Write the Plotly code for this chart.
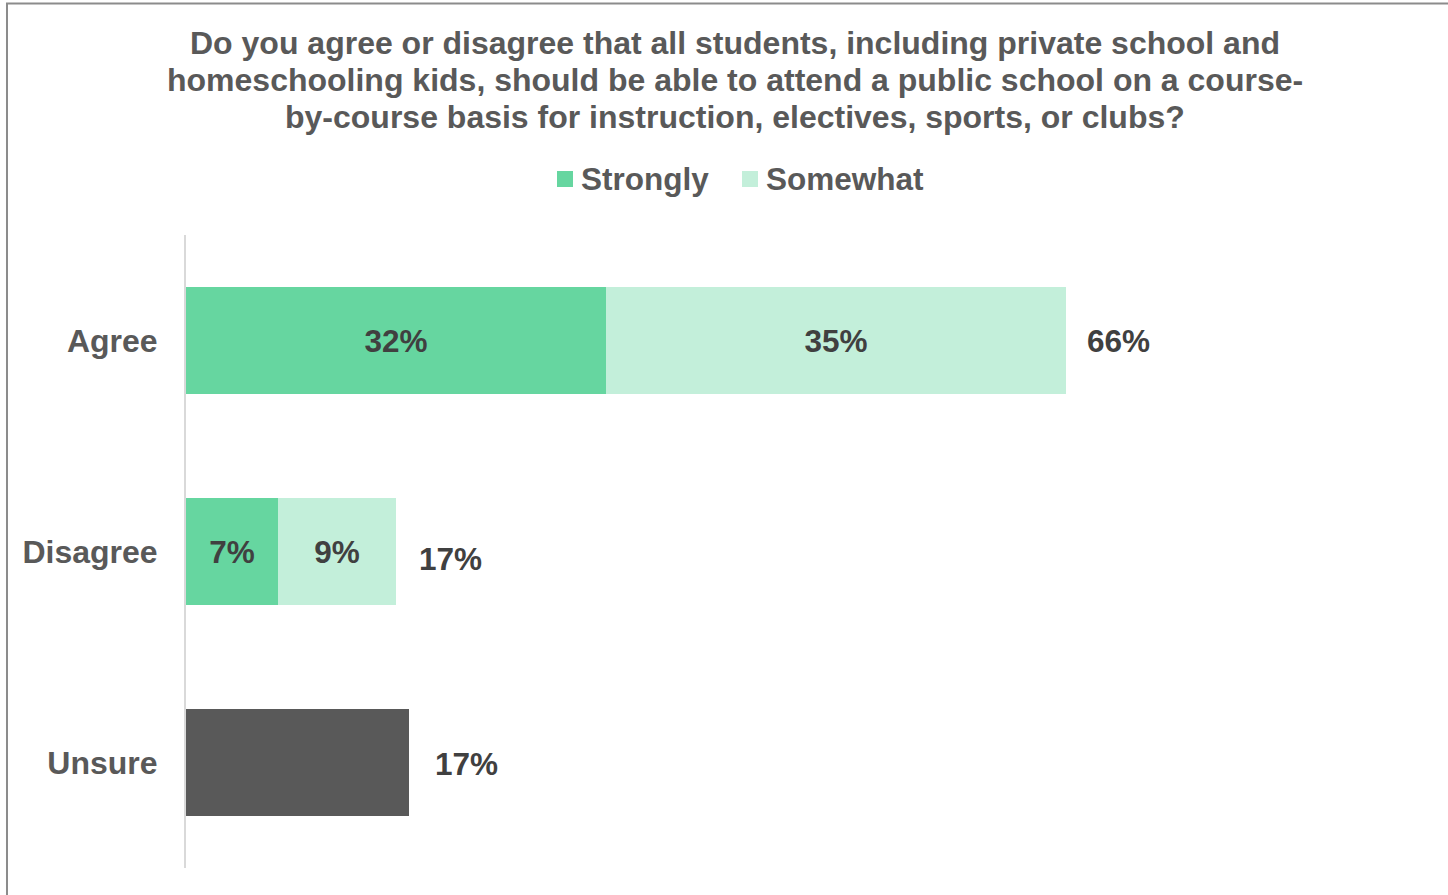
import plotly.graph_objects as go

# Survey responses (percent of respondents)
categories = ["Agree", "Disagree", "Unsure"]
strongly = [32, 7]          # Agree, Disagree
somewhat = [35, 9]          # Agree, Disagree
unsure = [17]               # Unsure
totals = [66, 17, 17]       # net totals shown beside each bar

title_lines = [
    "Do you agree or disagree that all students, including private school and",
    "homeschooling kids, should be able to attend a public school on a course-",
    "by-course basis for instruction, electives, sports, or clubs?",
]
legend_names = ["Strongly", "Somewhat"]

FONT = "Liberation Sans, Arial, sans-serif"
C_STRONG = "#66D6A0"
C_SOME = "#C3EFDA"
C_UNSURE = "#595959"
TXT_DARK = "#404040"
TXT_GREY = "#595959"

W, H = 1448, 895
L, T, B = 186, 235, 27
XMAX = 92
PX_PER = 13.13
plot_w = XMAX * PX_PER
R = W - L - plot_w
plot_h = H - T - B


def px_x(px):
    """Horizontal pixel position -> paper coordinate."""
    return (px - L) / plot_w


def px_y(py):
    """Vertical pixel position (from top) -> paper coordinate."""
    return (H - B - py) / plot_h


fig = go.Figure()

fig.add_trace(go.Bar(
    name=legend_names[0], y=categories[:2], x=strongly, orientation="h",
    marker=dict(color=C_STRONG, line=dict(width=0)),
    texttemplate="<b>%{x:.0f}%</b>", textposition="inside",
    insidetextanchor="middle",
    textfont=dict(family=FONT, size=31.5, color=TXT_DARK),
))
fig.add_trace(go.Bar(
    name=legend_names[1], y=categories[:2], x=somewhat, orientation="h",
    marker=dict(color=C_SOME, line=dict(width=0)),
    texttemplate="<b>%{x:.0f}%</b>", textposition="inside",
    insidetextanchor="middle",
    textfont=dict(family=FONT, size=31.5, color=TXT_DARK),
))
fig.add_trace(go.Bar(
    name="Unsure", y=categories[2:], x=unsure, orientation="h",
    marker=dict(color=C_UNSURE, line=dict(width=0)),
    hoverinfo="x",
))

# Net totals to the right of each bar
bar_ends = [strongly[0] + somewhat[0], strongly[1] + somewhat[1], unsure[0]]
shifts = [(19, 0), (21, -7), (24, -1)]
for cat, end, tot, (dx, dy) in zip(categories, bar_ends, totals, shifts):
    fig.add_annotation(
        x=end, y=cat, xref="x", yref="y", text=f"<b>{tot}%</b>",
        showarrow=False, xanchor="left", yanchor="middle",
        xshift=dx, yshift=dy,
        font=dict(family=FONT, size=31.5, color=TXT_DARK),
    )

# Title, one line per annotation for tight line spacing
for line, cy in zip(title_lines, [43, 80, 117]):
    fig.add_annotation(
        x=px_x(735), y=px_y(cy), xref="paper", yref="paper",
        text=f"<b>{line}</b>", showarrow=False,
        xanchor="center", yanchor="middle",
        font=dict(family=FONT, size=32, color=TXT_GREY),
    )

# Legend: colour squares with labels
for name, color, sq_x, txt_x in zip(legend_names, [C_STRONG, C_SOME], [557, 742], [579, 764]):
    fig.add_shape(
        type="rect", xref="paper", yref="paper",
        x0=px_x(sq_x), x1=px_x(sq_x + 16),
        y0=px_y(187), y1=px_y(171),
        line=dict(width=0), fillcolor=color,
    )
    fig.add_annotation(
        x=px_x(txt_x), y=px_y(179), xref="paper", yref="paper",
        text=f"<b>{name}</b>", showarrow=False,
        xanchor="left", yanchor="middle",
        font=dict(family=FONT, size=31.5, color=TXT_GREY),
    )

# Outer frame
fig.add_shape(
    type="rect", xref="paper", yref="paper",
    x0=px_x(7), x1=px_x(W + 20),
    y0=px_y(H + 20), y1=px_y(3.5),
    line=dict(color="#8C8C8C", width=2), fillcolor="rgba(0,0,0,0)",
    layer="below",
)

fig.update_layout(
    width=W, height=H,
    margin=dict(l=L, r=R, t=T, b=B, pad=0),
    paper_bgcolor="white", plot_bgcolor="white",
    barmode="stack", bargap=0.49,
    font=dict(family=FONT, color=TXT_GREY),
    showlegend=False,
    xaxis=dict(range=[0, XMAX], visible=False, showgrid=False, zeroline=False, fixedrange=True),
    yaxis=dict(
        categoryorder="array", categoryarray=categories, autorange="reversed",
        showline=True, linecolor="#D9D9D9", linewidth=2,
        showgrid=False, zeroline=False, ticks="", ticklabelstandoff=20,
        tickfont=dict(family=FONT, size=32, color=TXT_GREY, weight="bold"),
        fixedrange=True,
    ),
)

fig.write_html("out.html")
